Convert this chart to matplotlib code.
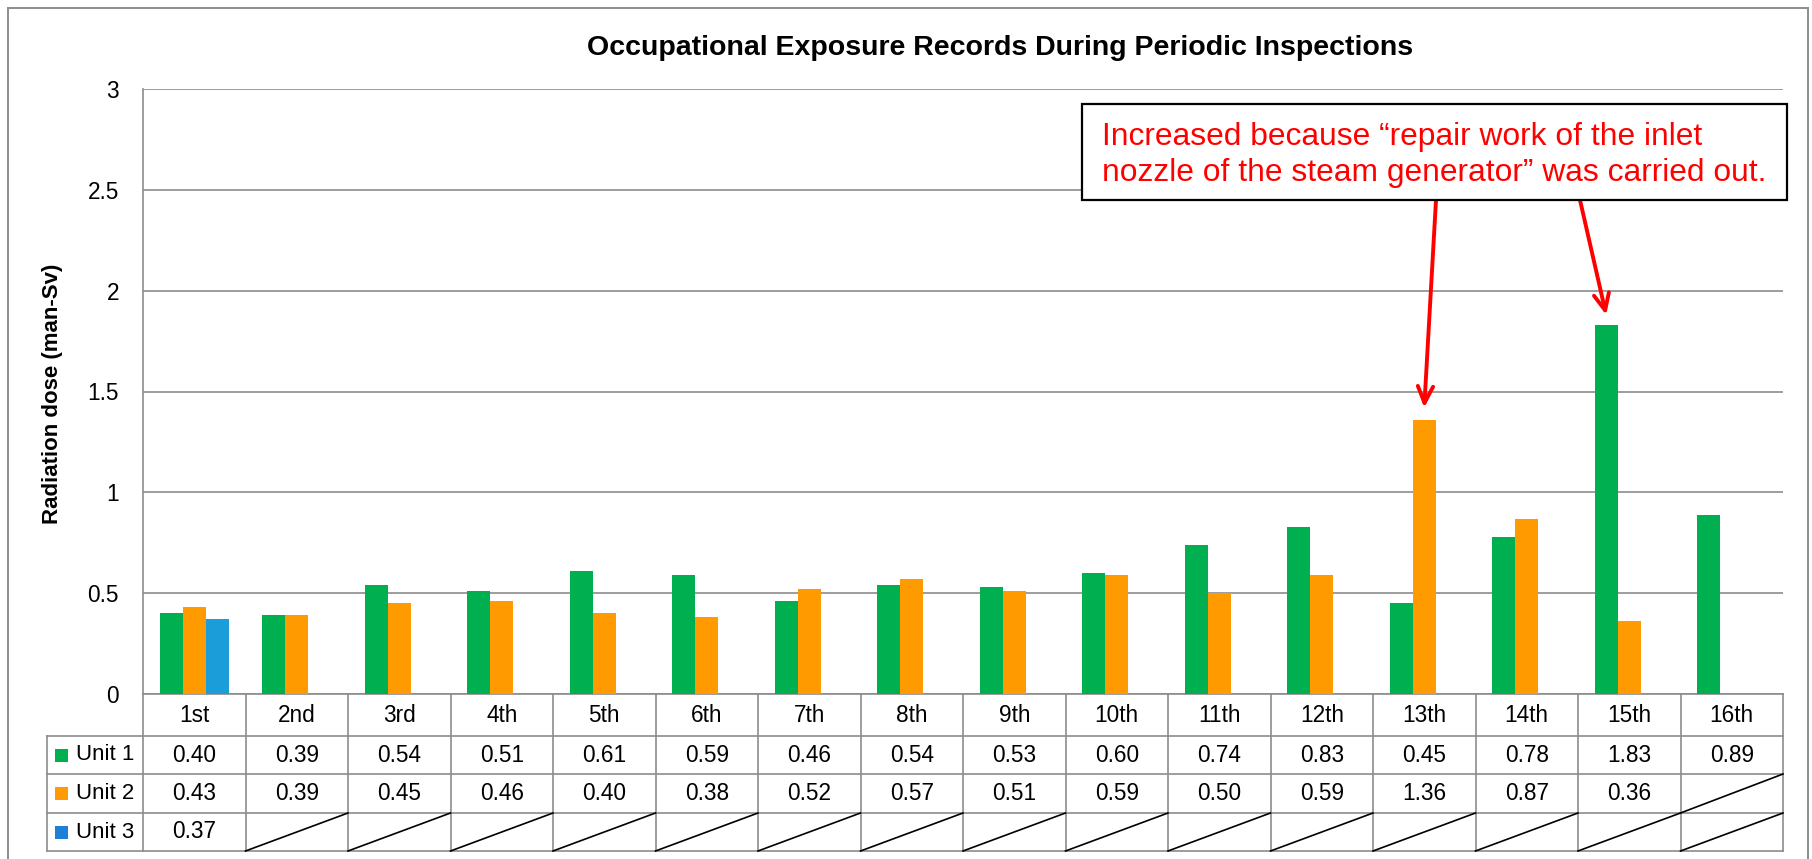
import matplotlib
matplotlib.use("Agg")
import matplotlib.pyplot as plt
from matplotlib.patches import Rectangle
from matplotlib.lines import Line2D
import numpy as np

plt.rcParams['font.family'] = ['Liberation Sans', 'DejaVu Sans']

categories = ["1st", "2nd", "3rd", "4th", "5th", "6th", "7th", "8th",
              "9th", "10th", "11th", "12th", "13th", "14th", "15th", "16th"]
unit1 = [0.40, 0.39, 0.54, 0.51, 0.61, 0.59, 0.46, 0.54, 0.53, 0.60, 0.74, 0.83, 0.45, 0.78, 1.83, 0.89]
unit2 = [0.43, 0.39, 0.45, 0.46, 0.40, 0.38, 0.52, 0.57, 0.51, 0.59, 0.50, 0.59, 1.36, 0.87, 0.36, None]
unit3 = [0.37] + [None] * 15
series_names = ["Unit 1", "Unit 2", "Unit 3"]
bar_colors = ["#00B050", "#FF9A00", "#1B9DD9"]
legend_colors = ["#00B050", "#FF9A00", "#1E7FD8"]
yticks = [0, 0.5, 1, 1.5, 2, 2.5, 3]
ytick_labels = ["0", "0.5", "1", "1.5", "2", "2.5", "3"]
title = "Occupational Exposure Records During Periodic Inspections"
ylabel = "Radiation dose (man-Sv)"
note_lines = ["Increased because \u201crepair work of the inlet",
              "nozzle of the steam generator\u201d was carried out."]

W, H = 1812, 859
fig = plt.figure(figsize=(W / 100, H / 100), dpi=100)

def fx(px):
    return px / W

def fy(py):
    return 1 - py / H

GRAY = "#8C8C8C"
FS = 16.3
ax_l, ax_r, ax_t, ax_b = 143, 1783, 89, 694
ax = fig.add_axes([fx(ax_l), fy(ax_b), fx(ax_r) - fx(ax_l), fy(ax_t) - fy(ax_b)])
ax.set_xlim(-0.5, len(categories) - 0.5)
ax.set_ylim(0, 3)

x = np.arange(len(categories))
bw = 0.225
all_series = [unit1, unit2, unit3]
for k, (vals, col) in enumerate(zip(all_series, bar_colors)):
    xs = [xi + (k - 1) * bw for xi, v in zip(x, vals) if v is not None]
    hs = [v for v in vals if v is not None]
    ax.bar(xs, hs, width=bw, color=col, zorder=3, linewidth=0)

ax.set_yticks(yticks)
ax.set_yticklabels(ytick_labels, fontsize=FS)
ax.tick_params(axis='y', length=0, pad=17.3)
ax.set_xticks([])
ax.grid(axis='y', color=GRAY, linewidth=1.2, zorder=0)
for s in ['top', 'right']:
    ax.spines[s].set_visible(False)
for s in ['left', 'bottom']:
    ax.spines[s].set_color(GRAY)
    ax.spines[s].set_linewidth(1.2)

fig.text(fx(53), fy(394), ylabel, rotation=90, ha='center', va='center',
         fontsize=16, fontweight='bold')
fig.text(fx(1000), fy(48), title, ha='center', va='center',
         fontsize=20.5, fontweight='bold')

# Outer frame
fig.add_artist(Rectangle((fx(8), fy(880)), fx(1808) - fx(8), fy(8) - fy(880),
                         transform=fig.transFigure, fill=False, edgecolor=GRAY, linewidth=1.4))

# Data table below the axes
fig.canvas.draw()
def cx(xd):
    return ax.transData.transform((xd, 0))[0] / W

row_y = [694, 736, 774, 813, 851]
leg_l = 47
def hline(x0, x1, py, col=GRAY, lw=1.2):
    fig.add_artist(Line2D([x0, x1], [fy(py), fy(py)], transform=fig.transFigure, color=col, linewidth=lw))
def vline(xf, py0, py1, col=GRAY, lw=1.2):
    fig.add_artist(Line2D([xf, xf], [fy(py0), fy(py1)], transform=fig.transFigure, color=col, linewidth=lw))

for py in row_y[1:]:
    hline(fx(leg_l), cx(len(categories) - 0.5), py)
vline(fx(leg_l), row_y[1], row_y[4])
for i in range(len(categories) + 1):
    vline(cx(i - 0.5), row_y[0], row_y[4])

for i, c in enumerate(categories):
    fig.text(cx(i), fy((row_y[0] + row_y[1]) / 2), c, ha='center', va='center', fontsize=FS)

for r, (vals, name, lc) in enumerate(zip(all_series, series_names, legend_colors)):
    y0, y1 = row_y[r + 1], row_y[r + 2]
    ym = (y0 + y1) / 2
    fig.add_artist(Rectangle((fx(55), fy(ym + 6.5)), fx(13), 13 / H, transform=fig.transFigure,
                             facecolor=lc, edgecolor='none'))
    fig.text(fx(76), fy(ym), name, ha='left', va='center', fontsize=16)
    for i, v in enumerate(vals):
        if v is None:
            fig.add_artist(Line2D([cx(i - 0.5), cx(i + 0.5)], [fy(y1), fy(y0)],
                                  transform=fig.transFigure, color='black', linewidth=1.2))
        else:
            fig.text(cx(i), fy(ym), f"{v:.2f}", ha='center', va='center', fontsize=FS)

# Annotation box
bx0, by0, bx1, by1 = 1082, 104, 1787, 200
fig.add_artist(Rectangle((fx(bx0), fy(by1)), fx(bx1) - fx(bx0), fy(by0) - fy(by1),
                         transform=fig.transFigure, facecolor='white', edgecolor='black',
                         linewidth=1.6, zorder=5))
for line, base in zip(note_lines, [145, 181]):
    fig.text(fx(1102), fy(base), line, ha='left', va='baseline', color='#FF0000', fontsize=22.9,
             zorder=6)

# Arrows from the box to the highlighted bars
targets = [(12 + 0 * bw, unit2[12] + 0.06, 1436), (14 - bw, unit1[14] + 0.05, 1580)]
for tx, ty, sx in targets:
    ax.annotate("", xy=(tx, ty), xycoords='data',
                xytext=(fx(sx), fy(by1)), textcoords='figure fraction',
                arrowprops=dict(arrowstyle="->,head_length=1.2,head_width=0.55", color='#FF0000',
                                linewidth=2.8, shrinkA=0, shrinkB=0), annotation_clip=False, zorder=6)

fig.savefig("out.png", dpi=100)
